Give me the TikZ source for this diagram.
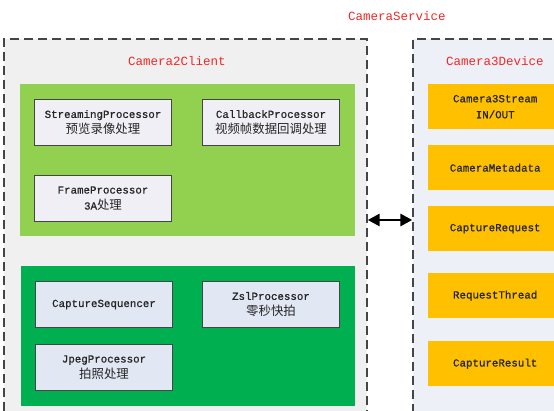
\documentclass[tikz,border=0pt]{standalone}
\usepackage{fontspec}
\setmonofont{Liberation Mono}[FakeBold=0.8]
\newfontfamily\titlemono{Liberation Mono}
\newfontfamily\cjk{Noto Sans CJK SC}[Scale=1.15]
\usetikzlibrary{arrows.meta, positioning, fit, backgrounds}

\definecolor{labelred}{HTML}{F02828}
\definecolor{panelgreen}{HTML}{92D050}
\definecolor{deepgreen}{HTML}{00B050}
\definecolor{streamorange}{HTML}{FFC000}
\definecolor{clientgray}{HTML}{F0F0F0}
\definecolor{devicegray}{HTML}{EDF0F7}
\definecolor{procfill}{HTML}{F0EFF5}
\definecolor{capfill}{HTML}{E2E7F4}
\definecolor{frameline}{HTML}{454545}

\begin{document}
\begin{tikzpicture}[
  x=1pt, y=-1pt,
  title/.style = {
    text=labelred, inner sep=0pt,
    font=\fontsize{12.5}{14}\selectfont\titlemono
  },
  procbox/.style = {
    rectangle, draw=frameline, line width=1pt,
    minimum width=137pt, minimum height=46pt,
    align=center, text=black!85, inner sep=2pt,
    font=\fontsize{10.8}{16}\selectfont\ttfamily
  },
  devbox/.style = {
    rectangle, fill=streamorange, anchor=north west,
    minimum width=134pt, minimum height=45pt,
    align=center, text=black!85, inner sep=2pt,
    font=\fontsize{10.8}{16}\selectfont\ttfamily
  },
  container/.style = {
    rectangle, draw=frameline, line width=1.4pt,
    dash pattern=on 9pt off 5pt, inner sep=0pt
  },
  panel/.style = {rectangle, inner sep=14.5pt},
  biarrow/.style = {{Triangle[length=12pt,width=12pt]}-{Triangle[length=12pt,width=12pt]},
    line width=2.8pt}
]
\useasboundingbox (0,0) rectangle (554,411);

%--- TITULOS ---
\node[title] (service) at (397,16) {CameraService};
\node[title] (c2title) at (177,61) {Camera2Client};
\node[title, anchor=west] (c3title) at (446,61) {Camera3Device};

%--- CAMERA2CLIENT: PROCESSORS ---
\node[procbox, fill=procfill, anchor=north west] (stream) at (34,99)
  {StreamingProcessor\\{\cjk 预览录像处理}};
\node[procbox, fill=procfill, right=30pt of stream] (callback)
  {CallbackProcessor\\{\cjk 视频帧数据回调处理}};
\node[procbox, fill=procfill, below=29pt of stream] (frame)
  {FrameProcessor\\3A{\cjk 处理}};

\node[procbox, fill=capfill, anchor=north west] (capseq) at (35,281)
  {CaptureSequencer};
\node[procbox, fill=capfill, right=29pt of capseq] (zsl)
  {ZslProcessor\\{\cjk 零秒快拍}};
\node[procbox, fill=capfill, below=16pt of capseq] (jpeg)
  {JpegProcessor\\{\cjk 拍照处理}};

%--- CAMERA3DEVICE ---
\node[devbox] (c3stream) at (428,84)  {Camera3Stream\\IN/OUT};
\node[devbox] (metadata) at (428,145) {CameraMetadata};
\node[devbox] (request)  at (428,206) {CaptureRequest};
\node[devbox] (reqthread) at (428,273) {RequestThread};
\node[devbox] (result)   at (428,341) {CaptureResult};

%--- CAIXAS DE FUNDO ---
\begin{scope}[on background layer]
  \clip (0,0) rectangle (554,411);
  \node[container, fill=clientgray, fit={(4,39) (367,420)}] (client) {};
  \node[container, fill=devicegray, fit={(413,39) (600,420)}] (device) {};
  \node[panel, fill=panelgreen, fit=(stream)(callback)(frame)] (preview) {};
  \node[panel, fill=deepgreen, fit=(capseq)(zsl)(jpeg)] (capture) {};
\end{scope}

%--- SETA ---
\draw[biarrow] ([yshift=9.5pt]client.east) -- ([yshift=9.5pt]device.west);
\end{tikzpicture}
\end{document}
